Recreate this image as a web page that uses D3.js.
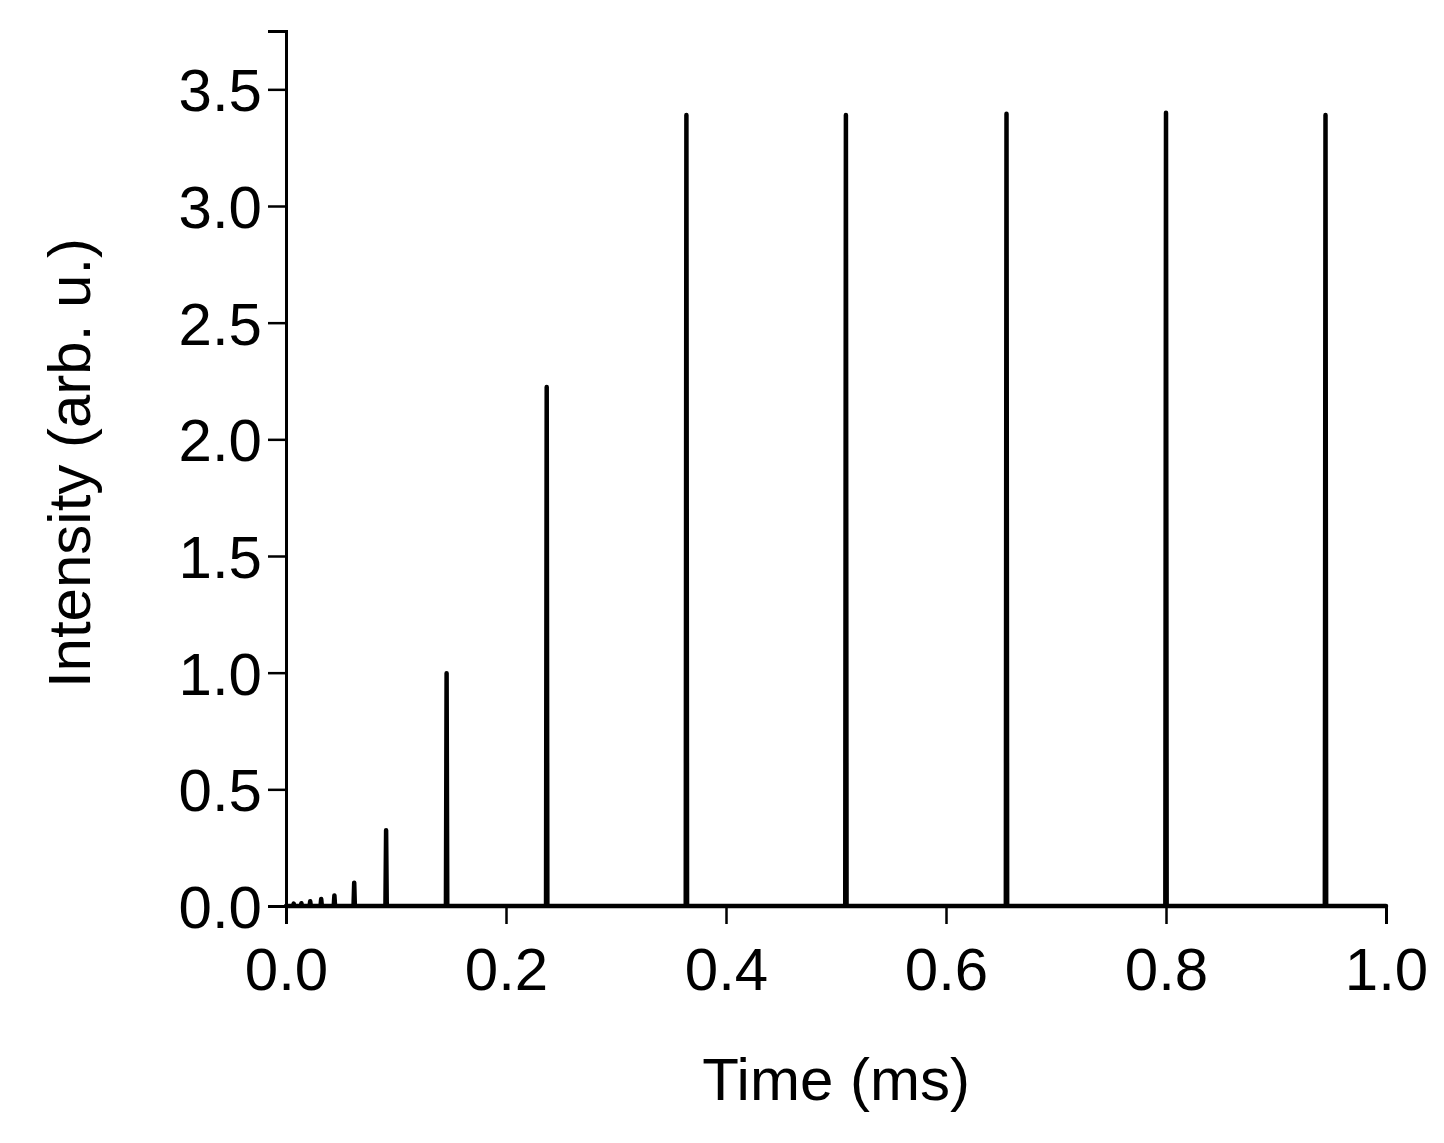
<!DOCTYPE html><html><head><meta charset="utf-8"><script src="https://d3js.org/d3.v7.min.js"></script>
<style>body{margin:0;background:#fff}text{font-family:"Liberation Sans",Arial,sans-serif}</style></head><body><svg id="c" width="1444" height="1143"></svg>
<script>
const pulseTimes=[0.007,0.014,0.022,0.032,0.044,0.062,0.091,0.146,0.237,0.364,0.509,0.655,0.800,0.945];
const pulseHeights=[0.01,0.012,0.02,0.03,0.045,0.10,0.325,0.998,2.224,3.39,3.39,3.395,3.40,3.39];
const xTicks=[0,0.2,0.4,0.6,0.8,1.0];
const yTicks=[0,0.5,1.0,1.5,2.0,2.5,3.0,3.5];
const svg=d3.select("#c");
const x=d3.scaleLinear().domain([0,1]).range([286,1386]);
const y=d3.scaleLinear().domain([0,3.75]).range([906,31]);
const pts=[[0,0]];
pulseTimes.forEach((t,i)=>{pts.push([t-0.0006,0],[t,pulseHeights[i]],[t+0.0006,0]);});
pts.push([1,0]);
svg.append("path").attr("d",d3.line().x(d=>x(d[0])).y(d=>y(d[1]))(pts))
 .attr("fill","none").attr("stroke","#000").attr("stroke-width",4.5).attr("stroke-linejoin","round").attr("stroke-linecap","round");
const xa=svg.append("g").attr("transform","translate(0,906)");
xa.call(d3.axisBottom(x).tickValues(d3.range(0,1.0001,0.1)).tickSize(9).tickFormat(""));
xa.call(d3.axisBottom(x).tickValues(xTicks).tickSize(18).tickFormat(d3.format(".1f")));
const ya=svg.append("g").attr("transform","translate(286,0)");
ya.call(d3.axisLeft(y).tickValues(d3.range(0,3.751,0.25)).tickSize(9).tickFormat(""));
ya.call(d3.axisLeft(y).tickValues(yTicks).tickSize(18).tickFormat(d3.format(".1f")));
svg.selectAll(".domain").attr("stroke","#000").attr("stroke-width",3);
svg.selectAll(".tick line").attr("stroke","#000").attr("stroke-width",2.5);
xa.selectAll("text").attr("font-size",60).attr("dy","1.05em").attr("fill","#000");
ya.selectAll("text").attr("font-size",60).attr("dy","0.36em").attr("dx","-0.05em").attr("fill","#000");
svg.append("text").attr("x",836).attr("y",1100).attr("text-anchor","middle").attr("font-size",60).text("Time (ms)");
svg.append("text").attr("transform","translate(90,463) rotate(-90)").attr("text-anchor","middle").attr("font-size",60).text("Intensity (arb. u.)");
</script></body></html>
